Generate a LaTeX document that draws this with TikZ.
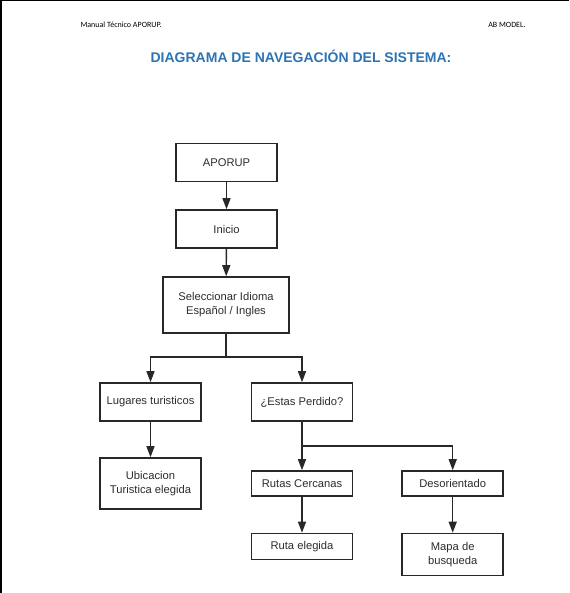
\documentclass[tikz,border=0pt]{standalone}
\usepackage{fontspec}
\setmainfont{Liberation Sans}
\newfontfamily\hdrfont{Carlito}
\usetikzlibrary{arrows.meta}
\definecolor{titleblue}{RGB}{46,116,181}
\definecolor{boxline}{RGB}{40,40,40}
\definecolor{boxtext}{RGB}{45,45,45}
\begin{document}
\begin{tikzpicture}[x=1pt,y=-1pt,
  box/.style={draw=boxline,line width=1.6pt,fill=white,minimum width=101pt,inner sep=0pt,align=center,text=boxtext,font=\fontsize{11.2}{14}\selectfont},
  conn/.style={draw=boxline,line width=1.4pt},
  arr/.style={conn,-{Triangle[length=11pt,width=8pt]}}]
\useasboundingbox (0,0) rectangle (569,593);
\fill[white] (0,0) rectangle (569,593);
\draw[black,line width=1.5pt] (0.75,593) -- (0.75,0.75) -- (569,0.75);
\node[font=\hdrfont\fontsize{8}{9}\selectfont,anchor=west] (h1) at (77,25) {Manual Técnico APORUP.};
\node[font=\hdrfont\fontsize{8}{9}\selectfont,anchor=east] (h2) at (529,25) {AB MODEL.};
\node[font=\bfseries\fontsize{14}{16}\selectfont,text=titleblue] (title) at (301,56) {DIAGRAMA DE NAVEGACIÓN DEL SISTEMA:};
\node[box,minimum height=38pt] (aporup) at (226.5,162.5) {APORUP};
\node[box,minimum height=38pt] (inicio) at (226.5,229) {Inicio};
\node[box,minimum width=126pt,minimum height=56pt] (sel) at (226,305) {Seleccionar Idioma\\Español / Ingles};
\node[box,minimum height=38pt] (lug) at (150.5,402) {Lugares turisticos};
\node[box,minimum height=38pt] (est) at (302,402) {¿Estas Perdido?};
\node[box,minimum height=51pt] (ubi) at (150.5,483.5) {Ubicacion\\Turistica elegida};
\node[box,minimum height=25pt] (rut) at (302,483.5) {Rutas Cercanas};
\node[box,minimum height=25pt] (des) at (452.7,483.5) {Desorientado};
\node[box,minimum height=26pt] (rel) at (302,546.5) {Ruta elegida};
\node[box,minimum height=42pt] (map) at (452.7,554.5) {Mapa de\\busqueda};
\coordinate (j1) at (226,357);
\coordinate (j2) at (302,446);
\draw[arr] (aporup) -- (inicio);
\draw[arr] (inicio) -- (sel);
\draw[conn] (sel.south) -- (j1);
\draw[arr] (j1) -| (lug.north);
\draw[arr] (j1) -| (est.north);
\draw[arr] (lug) -- (ubi);
\draw[conn] (est.south) -- (j2);
\draw[arr] (j2) -- (rut.north);
\draw[arr] (j2) -| (des.north);
\draw[arr] (rut) -- (rel);
\draw[arr] (des) -- (map);
\end{tikzpicture}
\end{document}
